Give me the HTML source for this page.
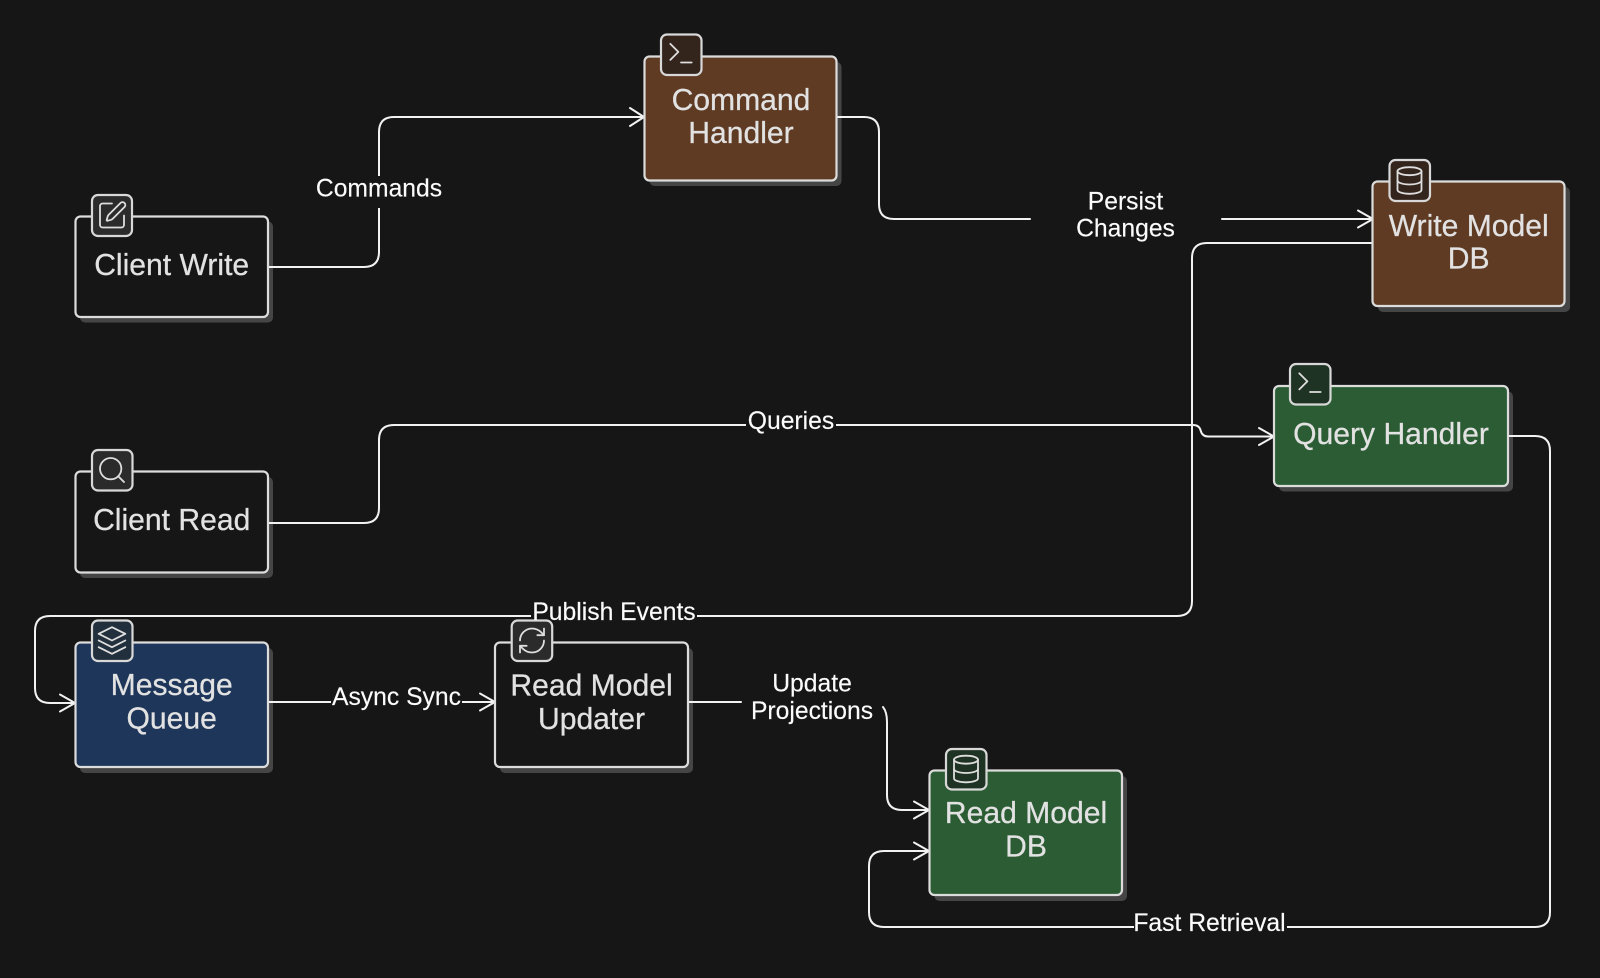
<!DOCTYPE html>
<html lang="en">
<head>
<meta charset="utf-8">
<title>CQRS Diagram</title>
<style>
html,body{margin:0;padding:0;background:#161616;width:1600px;height:978px;overflow:hidden}
svg{display:block;filter:blur(.35px)}
.e{fill:none;stroke:#f2f2f2;stroke-width:2;stroke-linejoin:round;stroke-linecap:round}
.shadow{fill:#454545;stroke:none}
.n{stroke:#dcdcdc;stroke-width:2.2}
.ib{stroke:#d8d8d8;stroke-width:2.2}
.i{fill:none;stroke:#dedede;stroke-width:1.35;stroke-linecap:round;stroke-linejoin:round}
text{font-family:"Liberation Sans",sans-serif;text-anchor:middle}
.t{font-size:30.1px;fill:#e2e2e2;stroke:#e2e2e2;stroke-width:.25}
.l{font-size:24.7px;fill:#fbfbfb;stroke:#fbfbfb;stroke-width:.15}
</style>
</head>
<body>
<svg width="1600" height="978" viewBox="0 0 1600 978" xmlns="http://www.w3.org/2000/svg">
<defs>
<symbol id="terminal" viewBox="0 0 24 24"><polyline class="i" points="4 17 10 11 4 5" transform="translate(0 -1)"/><line class="i" x1="12" x2="20" y1="18" y2="18"/></symbol>
<symbol id="pen" viewBox="0 0 24 24"><path class="i" d="M12 3H5a2 2 0 0 0-2 2v14a2 2 0 0 0 2 2h14a2 2 0 0 0 2-2v-7"/><path class="i" d="M18.375 2.625a1 1 0 0 1 3 3l-9.013 9.014a2 2 0 0 1-.853.505l-2.873.84a.5.5 0 0 1-.62-.62l.84-2.873a2 2 0 0 1 .506-.852z"/></symbol>
<symbol id="search" viewBox="0 0 24 24"><circle class="i" cx="11" cy="11" r="8"/><path class="i" d="M21 21l-4.34-4.34"/></symbol>
<symbol id="layers" viewBox="0 0 24 24"><polygon class="i" points="12 2 2 7 12 12 22 7"/><polyline class="i" points="2 17 12 22 22 17"/><polyline class="i" points="2 12 12 17 22 12"/></symbol>
<symbol id="refresh" viewBox="0 0 24 24"><path class="i" d="M3 12a9 9 0 0 1 9-9 9.75 9.75 0 0 1 6.74 2.74L21 8"/><path class="i" d="M21 3v5h-5"/><path class="i" d="M21 12a9 9 0 0 1-9 9 9.75 9.75 0 0 1-6.74-2.74L3 16"/><path class="i" d="M8 16H3v5"/></symbol>
<symbol id="db" viewBox="0 0 24 24"><ellipse class="i" cx="12" cy="5" rx="9" ry="3"/><path class="i" d="M3 5V19A9 3 0 0 0 21 19V5"/><path class="i" d="M3 12A9 3 0 0 0 21 12"/></symbol>
</defs>

<rect width="1600" height="978" fill="#161616"/>

<!-- node shadows -->
<rect class="shadow" x="80" y="221.500" width="193" height="101" rx="5"/>
<rect class="shadow" x="649.500" y="62" width="192" height="124" rx="5"/>
<rect class="shadow" x="1378" y="187" width="192" height="125" rx="5"/>
<rect class="shadow" x="1279" y="391.500" width="234" height="100" rx="5"/>
<rect class="shadow" x="80" y="477" width="193" height="101" rx="5"/>
<rect class="shadow" x="80" y="648" width="193" height="125" rx="5"/>
<rect class="shadow" x="500" y="648" width="193" height="125" rx="5"/>
<rect class="shadow" x="934.500" y="776" width="192.500" height="125" rx="5"/>

<!-- edges -->
<path class="e" d="M268 267H364Q379 267 379 252V132Q379 117 394 117H644"/>
<path class="e" d="M630 108L644 117L630 126"/>

<path class="e" d="M837 117H864Q879 117 879 132V204Q879 219 894 219H1030"/>
<path class="e" d="M1222 219H1373"/>
<path class="e" d="M1358 210.500L1373 219L1358 227.500"/>

<path class="e" d="M1372 243H1207Q1192 243 1192 258V601Q1192 616 1177 616H50Q35 616 35 631V688Q35 703 50 703H75"/>
<path class="e" d="M60 694.500L75 703L60 711.500"/>

<path class="e" d="M268 523H364Q379 523 379 508V440Q379 425 394 425H1193Q1199 425 1200.500 430Q1202 436.500 1208 436.500H1274"/>
<path class="e" d="M1259 428L1274 436.500L1259 445"/>

<path class="e" d="M268 702H495"/>
<path class="e" d="M480 693.500L495 702L480 710.500"/>

<path class="e" d="M688 702H741"/>
<path class="e" d="M883 707Q887 712 887 722V795Q887 810 902 810H929"/>
<path class="e" d="M914 801.500L929 810L914 818.500"/>

<path class="e" d="M1508 436H1535Q1550 436 1550 451V912Q1550 927 1535 927H884Q869 927 869 912V866Q869 851 884 851H929"/>
<path class="e" d="M914 842.500L929 851L914 859.500"/>

<!-- label backgrounds -->
<g fill="#161616">
<rect x="316" y="176" width="127" height="32"/>
<rect x="746" y="412" width="90" height="26"/>
<rect x="531" y="600" width="166" height="28"/>
<rect x="331" y="685" width="131" height="32"/>
<rect x="1134" y="912" width="153" height="30"/>
</g>

<!-- Client Write -->
<rect class="n" x="75.500" y="216.500" width="192.500" height="100.500" rx="5" fill="#161616"/>
<rect class="ib" x="92" y="195" width="40" height="41" rx="6" fill="#2b2b2b"/>
<use href="#pen" x="96" y="199.500" width="32" height="32"/>
<text class="t" x="171.700" y="275">Client Write</text>

<!-- Command Handler -->
<rect class="n" x="644.500" y="56.500" width="192" height="124" rx="5" fill="#5f3b24"/>
<rect class="ib" x="661" y="34.500" width="40.500" height="40.500" rx="6" fill="#33251c"/>
<use href="#terminal" x="665" y="38.500" width="32" height="32"/>
<text class="t" x="741" y="110">Command</text>
<text class="t" x="741" y="143">Handler</text>

<!-- Write Model DB -->
<rect class="n" x="1372.500" y="181.500" width="192" height="124.500" rx="5" fill="#5f3b24"/>
<rect class="ib" x="1389.500" y="160" width="40.500" height="41" rx="6" fill="#33251c"/>
<use href="#db" x="1393.500" y="164.500" width="32" height="32"/>
<text class="t" x="1468.700" y="236">Write Model</text>
<text class="t" x="1468.700" y="268.500">DB</text>

<!-- Query Handler -->
<rect class="n" x="1274" y="386" width="234" height="100" rx="5" fill="#2b5c33"/>
<rect class="ib" x="1290" y="364" width="40.500" height="40.500" rx="6" fill="#1f3324"/>
<use href="#terminal" x="1294" y="368" width="32" height="32"/>
<text class="t" x="1391" y="444">Query Handler</text>

<!-- Client Read -->
<rect class="n" x="75.500" y="471.500" width="192.500" height="101" rx="5" fill="#161616"/>
<rect class="ib" x="92" y="450" width="40.500" height="40.500" rx="6" fill="#2b2b2b"/>
<use href="#search" x="96" y="454" width="32" height="32"/>
<text class="t" x="171.700" y="530">Client Read</text>

<!-- Message Queue -->
<rect class="n" x="75.500" y="642.500" width="192.500" height="124.500" rx="5" fill="#1e3659"/>
<rect class="ib" x="92" y="620.500" width="40.500" height="40.500" rx="6" fill="#222f3d"/>
<use href="#layers" x="96" y="624.500" width="32" height="32"/>
<text class="t" x="171.700" y="695">Message</text>
<text class="t" x="171.700" y="728.500">Queue</text>

<!-- Read Model Updater -->
<rect class="n" x="495" y="642.500" width="193" height="124.500" rx="5" fill="#161616"/>
<rect class="ib" x="511.700" y="620.500" width="40.500" height="40.500" rx="6" fill="#2b2b2b"/>
<use href="#refresh" x="516" y="624.500" width="32" height="32"/>
<text class="t" x="591.500" y="695.500">Read Model</text>
<text class="t" x="591.500" y="729">Updater</text>

<!-- Read Model DB -->
<rect class="n" x="929.500" y="770.500" width="192.500" height="124.500" rx="5" fill="#2b5c33"/>
<rect class="ib" x="946" y="749" width="40.500" height="40.500" rx="6" fill="#1f3324"/>
<use href="#db" x="950" y="753" width="32" height="32"/>
<text class="t" x="1026" y="823">Read Model</text>
<text class="t" x="1026" y="856.500">DB</text>

<!-- edge labels -->
<text class="l" x="379" y="196.500">Commands</text>
<text class="l" x="1125.500" y="209.500">Persist</text>
<text class="l" x="1125.500" y="236.500">Changes</text>
<text class="l" x="791" y="429">Queries</text>
<text class="l" x="614" y="620">Publish Events</text>
<text class="l" x="396.500" y="705">Async Sync</text>
<text class="l" x="812" y="691.500">Update</text>
<text class="l" x="812" y="719">Projections</text>
<text class="l" x="1209.500" y="931">Fast Retrieval</text>
</svg>
</body>
</html>
